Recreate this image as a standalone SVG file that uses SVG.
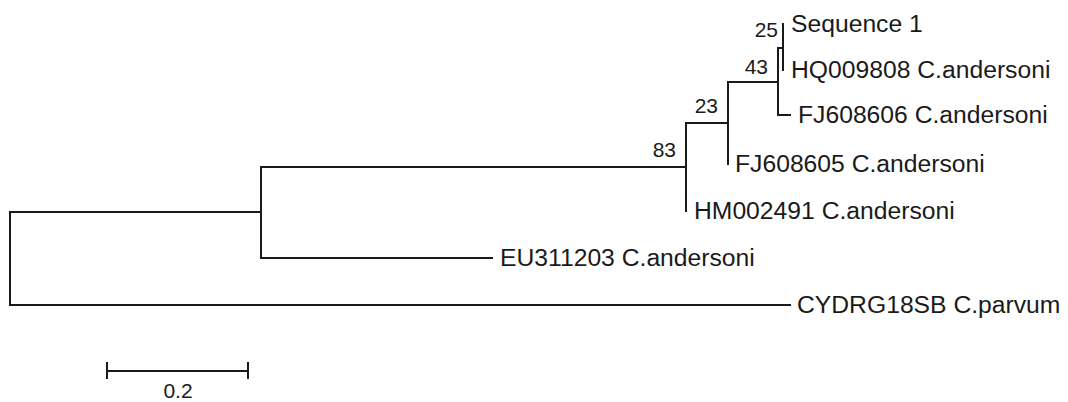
<svg xmlns="http://www.w3.org/2000/svg" width="1068" height="402" viewBox="0 0 1068 402">
<style>
.br{fill:none;stroke:#1a1a1a;stroke-width:2;stroke-linecap:square}
.lbl{font-family:"Liberation Sans",Arial,sans-serif;font-size:24.7px;fill:#1a1a1a}
.bs{font-family:"Liberation Sans",Arial,sans-serif;font-size:21px;fill:#1a1a1a;text-anchor:end}
.sc{font-family:"Liberation Sans",Arial,sans-serif;font-size:21px;fill:#1a1a1a;text-anchor:middle}
</style>
<rect width="1068" height="402" fill="#ffffff"/>
<g id="connectors">
<path class="br" d="M10,212 V305 H790"/>
<path class="br" d="M10,212 H261"/>
<path class="br" d="M261,167 V258 H492"/>
<path class="br" d="M261,167 H686"/>
<path class="br" d="M686,123 V211"/>
<path class="br" d="M686,123 H728"/>
<path class="br" d="M728,82 V164"/>
<path class="br" d="M728,82 H778"/>
<path class="br" d="M778,48 V115 H790"/>
<path class="br" d="M778,48 H783"/>
<path class="br" d="M783,24 V70"/>
</g>
<g id="leaf-sequence1"><text class="lbl" x="791" y="32">Sequence 1</text></g>
<g id="leaf-HQ009808"><text class="lbl" x="791" y="78">HQ009808 C.andersoni</text></g>
<g id="leaf-FJ608606"><text class="lbl" x="798" y="123">FJ608606 C.andersoni</text></g>
<g id="leaf-FJ608605"><text class="lbl" x="735" y="172">FJ608605 C.andersoni</text></g>
<g id="leaf-HM002491"><text class="lbl" x="694" y="219">HM002491 C.andersoni</text></g>
<g id="leaf-EU311203"><text class="lbl" x="500" y="266">EU311203 C.andersoni</text></g>
<g id="leaf-CYDRG18SB"><text class="lbl" x="797" y="313">CYDRG18SB C.parvum</text></g>
<g id="node-25"><text class="bs" x="778" y="37">25</text></g>
<g id="node-43"><text class="bs" x="768" y="74">43</text></g>
<g id="node-23"><text class="bs" x="718" y="113">23</text></g>
<g id="node-83"><text class="bs" x="676" y="157">83</text></g>
<g id="scale-bar">
<path class="br" d="M107,371 H248 M107,363 V378 M248,363 V378"/>
<text class="sc" x="178" y="398">0.2</text>
</g>
</svg>
